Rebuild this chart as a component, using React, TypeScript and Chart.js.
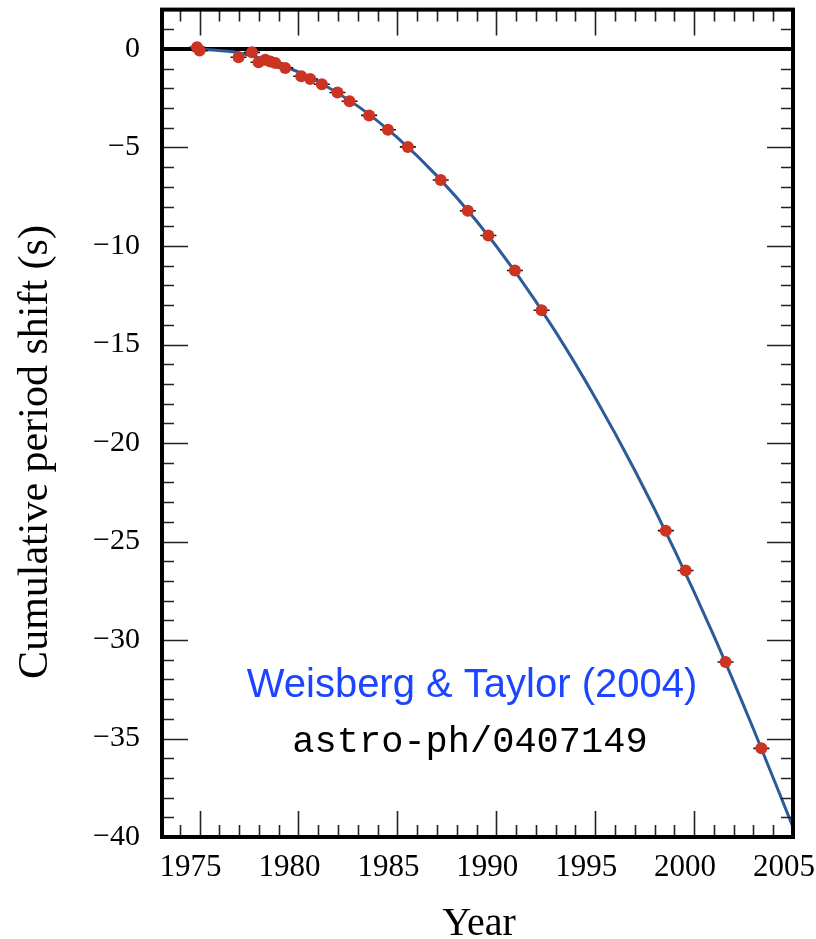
import React, { useEffect, useRef } from "react";
import { Chart, registerables } from "chart.js";

Chart.register(...registerables);

// Observed cumulative period shift (s) vs year (Weisberg & Taylor 2004)
const OBS_YEARS = [
  1974.87, 1975.0, 1976.97, 1977.65, 1977.98, 1978.32, 1978.57, 1978.83, 1979.33,
  1980.14, 1980.59, 1981.18, 1981.97, 1982.58, 1983.57, 1984.52, 1985.53, 1987.19,
  1988.56, 1989.6, 1990.94, 1992.29, 1998.57, 1999.57, 2001.59, 2003.4,
];
const OBS_SHIFT = [
  0.09, -0.08, -0.42, -0.17, -0.67, -0.54, -0.64, -0.71, -0.96,
  -1.38, -1.52, -1.79, -2.21, -2.65, -3.37, -4.1, -4.97, -6.65,
  -8.21, -9.47, -11.24, -13.26, -24.45, -26.47, -31.12, -35.5,
];

// General-relativity prediction curve
const CURVE_YEARS = [1975, 1977, 1979, 1981, 1983, 1985, 1987, 1989, 1991, 1993, 1995, 1997, 1999, 2001, 2003, 2005];
const CURVE_SHIFT = [0, -0.2, -0.76, -1.66, -2.9, -4.5, -6.44, -8.73, -11.37, -14.36, -17.7, -21.38, -25.41, -29.79, -34.52, -39.5];

const X_TICKS = [1975, 1980, 1985, 1990, 1995, 2000, 2005];
const Y_TICKS = [0, -5, -10, -15, -20, -25, -30, -35, -40];

const X_MIN = 1973.1;
const X_MAX = 2005;
const Y_MIN = -40;
const Y_MAX = 2;

const X_TITLE = "Year";
const Y_TITLE = "Cumulative period shift (s)";
const NOTE_1 = "Weisberg & Taylor (2004)";
const NOTE_2 = "astro-ph/0407149";

const framePlugin = {
  id: "frame",
  beforeDatasetsDraw(chart: any) {
    const { ctx, chartArea: a, scales } = chart;
    const y0 = scales.y.getPixelForValue(0);
    ctx.save();
    ctx.strokeStyle = "#000";
    ctx.lineWidth = 4;
    ctx.beginPath();
    ctx.moveTo(a.left, y0);
    ctx.lineTo(a.right, y0);
    ctx.stroke();
    ctx.restore();
  },
  afterDatasetsDraw(chart: any) {
    const { ctx, chartArea: a, scales } = chart;
    const xs = scales.x;
    const ys = scales.y;
    ctx.save();
    ctx.strokeStyle = "#222";
    ctx.lineWidth = 1.6;
    ctx.beginPath();
    for (let v = Math.ceil(X_MIN); v < X_MAX; v++) {
      const len = v % 5 === 0 ? 26 : 12;
      const px = Math.round(xs.getPixelForValue(v)) + 0.5;
      ctx.moveTo(px, a.bottom);
      ctx.lineTo(px, a.bottom - len);
      ctx.moveTo(px, a.top);
      ctx.lineTo(px, a.top + len);
    }
    for (let v = Y_MIN + 1; v < Y_MAX; v++) {
      if (v === 0) continue;
      const len = v % 5 === 0 ? 26 : 12;
      const py = Math.round(ys.getPixelForValue(v)) + 0.5;
      ctx.moveTo(a.left, py);
      ctx.lineTo(a.left + len, py);
      ctx.moveTo(a.right, py);
      ctx.lineTo(a.right - len, py);
    }
    ctx.stroke();
    ctx.strokeStyle = "#000";
    ctx.lineWidth = 4;
    ctx.strokeRect(a.left, a.top, a.right - a.left, a.bottom - a.top);

    // axis titles
    ctx.fillStyle = "#000";
    ctx.font = '40px "Liberation Serif"';
    ctx.textAlign = "center";
    ctx.textBaseline = "alphabetic";
    ctx.fillText(X_TITLE, 479, 935);

    ctx.save();
    ctx.translate(36, 452);
    ctx.rotate(-Math.PI / 2);
    ctx.font = '42px "Liberation Serif"';
    ctx.textBaseline = "middle";
    ctx.fillText(Y_TITLE, 0, 0);
    ctx.restore();

    // annotations
    ctx.textBaseline = "alphabetic";
    ctx.textAlign = "center";
    ctx.fillStyle = "#1d45ff";
    ctx.font = '40px "Liberation Sans"';
    ctx.fillText(NOTE_1, 472, 697);
    ctx.fillStyle = "#000";
    ctx.font = '37px "Liberation Mono"';
    ctx.fillText(NOTE_2, 470, 752);
    ctx.restore();
  },
};

export default function App() {
  const ref = useRef<HTMLCanvasElement | null>(null);
  useEffect(() => {
    document.body.style.margin = "0";
    const canvas = ref.current;
    if (!canvas) return;
    const obs = OBS_YEARS.map((x, i) => ({ x, y: OBS_SHIFT[i] }));
    const curve = CURVE_YEARS.map((x, i) => ({ x, y: CURVE_SHIFT[i] }));
    const chart = new Chart(canvas, {
      type: "scatter",
      data: {
        datasets: [
          {
            type: "line",
            label: "GR prediction",
            data: curve,
            borderColor: "#2b5c99",
            borderWidth: 3,
            pointRadius: 0,
            cubicInterpolationMode: "monotone",
            fill: false,
            order: 3,
          } as any,
          {
            label: "errors",
            data: obs,
            pointStyle: "line",
            pointRadius: 8,
            borderColor: "#111",
            borderWidth: 1.6,
            order: 2,
          } as any,
          {
            label: "observed",
            data: obs,
            pointStyle: "circle",
            pointRadius: 6,
            backgroundColor: "#cc3322",
            borderColor: "#cc3322",
            borderWidth: 0,
            order: 1,
          } as any,
        ],
      },
      options: {
        responsive: false,
        animation: false,
        layout: { padding: { top: 7.5, right: 23, left: 0, bottom: 0 } },
        plugins: { legend: { display: false }, tooltip: { enabled: false } },
        scales: {
          x: {
            type: "linear",
            min: X_MIN,
            max: X_MAX,
            afterBuildTicks: (s: any) => {
              s.ticks = X_TICKS.map((v) => ({ value: v }));
            },
            afterFit: (s: any) => {
              s.height = 102;
              s.paddingLeft = 0;
              s.paddingRight = 0;
            },
            grid: { display: false, drawTicks: false },
            border: { display: false },
            ticks: {
              font: { family: "Liberation Serif", size: 31 },
              color: "#000",
              padding: 12,
              labelOffset: -9,
              maxRotation: 0,
              autoSkip: false,
              callback: (v: any) => String(v),
            },
          },
          y: {
            type: "linear",
            min: Y_MIN,
            max: Y_MAX,
            afterBuildTicks: (s: any) => {
              s.ticks = Y_TICKS.map((v) => ({ value: v }));
            },
            afterFit: (s: any) => {
              s.width = 162;
              s.paddingTop = 0;
              s.paddingBottom = 0;
            },
            grid: { display: false, drawTicks: false },
            border: { display: false },
            ticks: {
              font: { family: "Liberation Serif", size: 30 },
              color: "#000",
              padding: 22,
              autoSkip: false,
              callback: (v: any) => (v < 0 ? "\u2212" + Math.abs(v) : String(v)),
            },
          },
        },
      } as any,
      plugins: [framePlugin],
    });
    return () => chart.destroy();
  }, []);
  return (
    <div style={{ position: "absolute", left: 0, top: 0, width: 816, height: 939, background: "#fff" }}>
      <canvas ref={ref} width={816} height={939} style={{ display: "block" }} />
    </div>
  );
}
